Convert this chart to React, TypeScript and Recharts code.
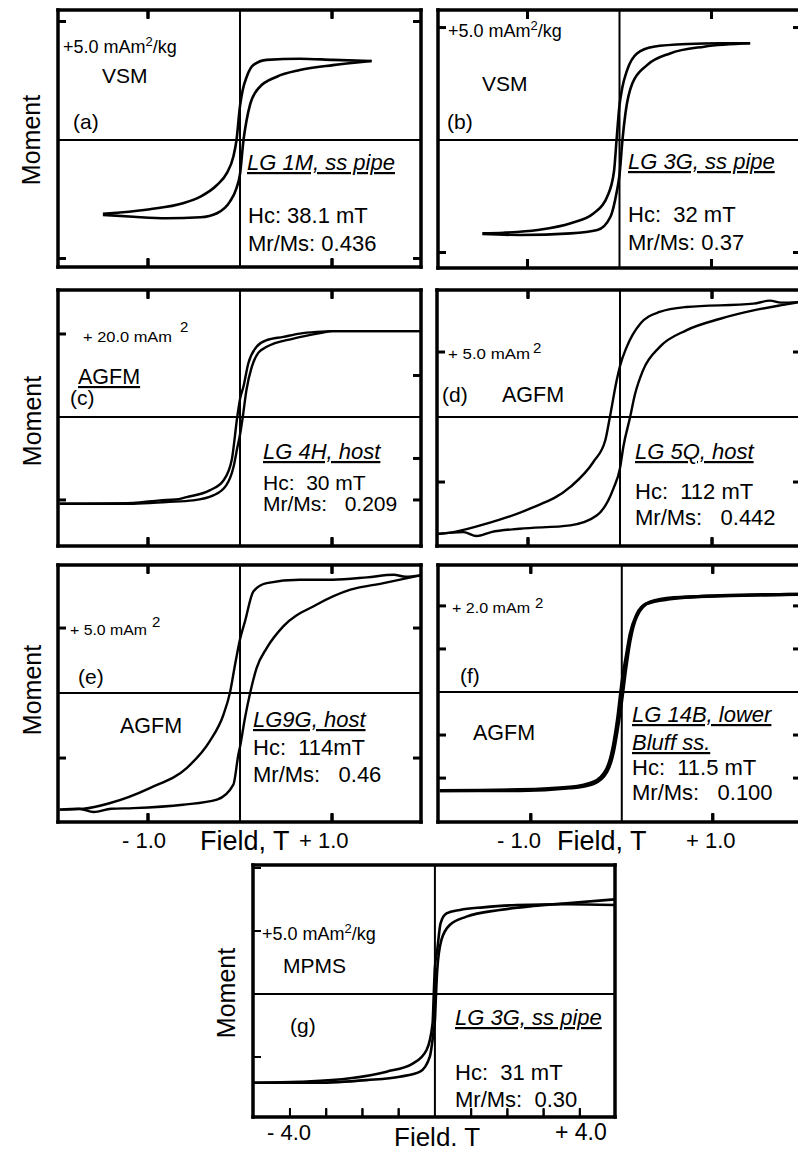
import React from 'react';
import { ComposedChart, Line, Scatter, XAxis, YAxis, ReferenceLine } from 'recharts';

type Pt = [number, number];

// ---- data: [field (T), moment] ----
const aUpper: Pt[] = [[-1.49,-3.12],[-1.34,-3.07],[-0.98,-2.92],[-0.62,-2.67],[-0.43,-2.39],[-0.25,-1.9],[-0.145,-1.41],[-0.072,-0.7],[-0.038,0],[0,1.44],[0.029,2.1],[0.073,2.67],[0.145,3.16],[0.29,3.38],[0.65,3.43],[1.01,3.38],[1.43,3.33]];
const aLower: Pt[] = [[-1.49,-3.16],[-1.16,-3.24],[-0.8,-3.3],[-0.43,-3.26],[-0.25,-3.09],[-0.11,-2.6],[-0.04,-2.05],[0,-1.44],[0.038,0],[0.07,0.8],[0.11,1.5],[0.2,2.18],[0.4,2.67],[0.65,2.95],[1.01,3.16],[1.43,3.33]];

const bUpper: Pt[] = [[-1.49,-4.15],[-1.26,-4.12],[-0.89,-4.0],[-0.53,-3.7],[-0.28,-3.26],[-0.134,-2.52],[-0.06,-1.4],[-0.032,0],[0,1.55],[0.029,2.3],[0.083,3.11],[0.19,3.85],[0.37,4.15],[0.74,4.27],[1.1,4.3],[1.42,4.3]];
const bLower: Pt[] = [[-1.49,-4.18],[-1.08,-4.22],[-0.53,-4.15],[-0.24,-4.0],[-0.098,-3.41],[-0.03,-2.3],[0,-1.55],[0.032,0],[0.065,1.2],[0.14,2.52],[0.3,3.33],[0.55,3.85],[0.92,4.15],[1.42,4.3]];

const cUpper: Pt[] = [[-1.96,-20.9],[-1.16,-20.7],[-0.87,-20.1],[-0.7,-19.9],[-0.58,-19.3],[-0.33,-17.7],[-0.18,-15.3],[-0.09,-10.4],[-0.03,0],[0,4.3],[0.036,7.2],[0.09,12.9],[0.18,16.9],[0.29,18.5],[0.47,19.3],[0.65,20.1],[0.83,20.5],[1.01,20.7],[1.96,20.7]];
const cLower: Pt[] = [[-1.96,-20.9],[-1.16,-20.9],[-0.8,-20.5],[-0.51,-20.1],[-0.29,-18.9],[-0.15,-16.5],[-0.07,-12.0],[-0.03,-7.5],[0,-4.3],[0.03,0],[0.07,6.5],[0.127,12.0],[0.2,15.5],[0.29,16.9],[0.58,18.9],[0.87,20.2],[1.01,20.7],[1.96,20.7]];

const dUpper: Pt[] = [[-1.99,-9.0],[-1.81,-8.85],[-1.45,-8.2],[-0.98,-7.05],[-0.54,-5.38],[-0.29,-3.46],[-0.16,-1.79],[-0.11,0],[-0.036,2.82],[0,3.93],[0.072,5.38],[0.22,7.18],[0.43,8.08],[0.72,8.46],[1.45,8.72],[1.63,8.95],[1.75,8.8],[1.96,8.85]];
const dLower: Pt[] = [[-1.99,-9.0],[-1.7,-8.85],[-1.56,-9.15],[-1.4,-8.85],[-1.09,-8.59],[-0.54,-8.33],[-0.25,-7.56],[-0.072,-5.51],[0,-3.93],[0.036,-2.3],[0.11,0],[0.16,1.67],[0.25,3.59],[0.43,5.38],[0.72,6.67],[1.09,7.56],[1.45,8.2],[1.74,8.59],[1.96,8.85]];

const eUpper: Pt[] = [[-1.96,-8.97],[-1.7,-8.9],[-1.41,-8.46],[-0.98,-7.31],[-0.58,-5.77],[-0.33,-3.72],[-0.18,-1.67],[-0.11,0],[-0.054,2.18],[0,4.14],[0.054,5.51],[0.145,7.82],[0.29,8.46],[0.65,8.72],[1.01,8.72],[1.38,8.9],[1.67,9.1],[1.8,8.95],[1.96,9.05]];
const eLower: Pt[] = [[-1.96,-8.97],[-1.75,-8.9],[-1.59,-9.15],[-1.4,-8.9],[-1.16,-8.85],[-0.62,-8.59],[-0.25,-8.2],[-0.072,-7.05],[-0.018,-4.74],[0,-4.14],[0.054,-1.92],[0.11,0],[0.18,1.92],[0.29,3.46],[0.47,5.13],[0.83,6.79],[1.2,7.95],[1.56,8.46],[1.96,9.05]];

const fUpper: Pt[] = [[-2.0,-2.29],[-1.12,-2.27],[-0.57,-2.21],[-0.31,-2.09],[-0.165,-1.78],[-0.092,-1.23],[-0.045,-0.6],[0,0.2],[0.05,0.85],[0.092,1.35],[0.165,1.8],[0.27,2.05],[0.53,2.16],[1.08,2.24],[1.94,2.27]];
const fLower: Pt[] = [[-2.0,-2.29],[-1.12,-2.29],[-0.57,-2.23],[-0.31,-2.13],[-0.165,-1.86],[-0.092,-1.4],[-0.05,-0.9],[0,-0.2],[0.045,0.55],[0.092,1.2],[0.165,1.76],[0.31,2.09],[0.57,2.19],[1.08,2.23],[1.94,2.27]];

const gUpper: Pt[] = [[-5.01,-7.04],[-3.72,-6.96],[-2.34,-6.69],[-1.33,-6.16],[-0.6,-5.5],[-0.23,-4.44],[-0.064,-2.33],[-0.031,0],[0,2.1],[0.064,3.49],[0.156,5.61],[0.32,6.4],[0.69,6.67],[1.33,6.88],[2.25,7.06],[3.63,7.12],[4.97,7.06]];
const gLower: Pt[] = [[-5.01,-7.04],[-3.26,-7.04],[-1.89,-6.83],[-0.97,-6.56],[-0.41,-6.16],[-0.14,-4.97],[-0.046,-3.2],[0,-2.1],[0.031,0],[0.064,1.9],[0.18,4.29],[0.41,5.48],[0.87,6.14],[1.79,6.67],[2.71,6.98],[3.63,7.2],[4.97,7.51]];

// ---- tick values ----
const fieldTicksTop = [-1, 1];
const fieldTicksBottom = [-1, 1];
const fieldTicksG = [-4, -3, -2, -1, 1, 2, 3, 4];
const ticksA = [-5, 5];
const ticksCLeft = [-20, 20];
const ticksCRight = [-20, -10, 10];
const ticksF = [-2, -1, 1, 2];
const ticksGLeft = [-5, 5, 10];

const toRows = (pts: Pt[]) => pts.map(([h, m]) => ({ h, m }));

const FONT = "'Liberation Sans', Arial, Helvetica, sans-serif";

const EmptyTick = () => <g />;

interface PanelProps {
  left: number; top: number; width: number; height: number;
  xDomain: [number, number]; yDomain: [number, number];
  xTop: number[]; xBottom: number[]; yLeft: number[]; yRight: number[];
  upper: Pt[]; lower: Pt[]; curveWidth: number; tickW: number;
}

function Panel(p: PanelProps) {
  const pad = 5;
  const axisLine = { stroke: '#000', strokeWidth: 3.5, strokeLinecap: 'square' as const };
  const tl = (arr: number[]) => (arr.length ? { stroke: '#000', strokeWidth: p.tickW } : false);
  const [yMin, yMax] = p.yDomain;
  const bottomTickRows = p.xBottom.map((t) => ({ h: t, m: yMin, dir: -1 }));
  const topTickRows = p.xTop.map((t) => ({ h: t, m: yMax, dir: 1 }));
  const tickShape = (s: any) => {
    const { cx, cy, payload } = s;
    if (typeof cx !== 'number' || typeof cy !== 'number') return <g />;
    const d = payload && payload.dir === 1 ? 9 : -9;
    return <line x1={cx} y1={cy} x2={cx} y2={cy + d} stroke="#000" strokeWidth={p.tickW} />;
  };
  return (
    <div style={{ position: 'absolute', left: p.left - pad, top: p.top - pad }}>
      <ComposedChart width={p.width + 2 * pad} height={p.height + 2 * pad}
        margin={{ top: pad, right: pad, bottom: pad, left: pad }}>
        <XAxis xAxisId="b" orientation="bottom" type="number" dataKey="h" domain={p.xDomain}
          allowDataOverflow ticks={p.xBottom} interval={0} tick={EmptyTick} tickSize={8} mirror height={1}
          stroke="#000" axisLine={axisLine} tickLine={tl(p.xBottom)} />
        <XAxis xAxisId="t" orientation="top" type="number" dataKey="h" domain={p.xDomain}
          allowDataOverflow ticks={p.xTop} interval={0} tick={EmptyTick} tickSize={8} mirror height={1}
          stroke="#000" axisLine={axisLine} tickLine={tl(p.xTop)} />
        <YAxis yAxisId="l" orientation="left" type="number" dataKey="m" domain={p.yDomain}
          allowDataOverflow ticks={p.yLeft} interval={0} tick={EmptyTick} tickSize={8} mirror width={1}
          stroke="#000" axisLine={axisLine} tickLine={tl(p.yLeft)} />
        <YAxis yAxisId="r" orientation="right" type="number" dataKey="m" domain={p.yDomain}
          allowDataOverflow ticks={p.yRight} interval={0} tick={EmptyTick} tickSize={8} mirror width={1}
          stroke="#000" axisLine={axisLine} tickLine={tl(p.yRight)} />
        <ReferenceLine xAxisId="b" yAxisId="l" x={0} stroke="#000" strokeWidth={2} />
        <ReferenceLine xAxisId="b" yAxisId="l" y={0} stroke="#000" strokeWidth={2} />
        <Scatter xAxisId="b" yAxisId="l" data={bottomTickRows} dataKey="m" shape={tickShape}
          isAnimationActive={false} />
        <Scatter xAxisId="b" yAxisId="l" data={topTickRows} dataKey="m" shape={tickShape}
          isAnimationActive={false} />
        <Line xAxisId="b" yAxisId="l" data={toRows(p.upper)} dataKey="m" type="monotone" dot={false}
          activeDot={false} stroke="#000" strokeWidth={p.curveWidth} isAnimationActive={false} />
        <Line xAxisId="b" yAxisId="l" data={toRows(p.lower)} dataKey="m" type="monotone" dot={false}
          activeDot={false} stroke="#000" strokeWidth={p.curveWidth} isAnimationActive={false} />
      </ComposedChart>
    </div>
  );
}

const T = (props: any) => (
  <text fontFamily={FONT} fill="#000" style={{ whiteSpace: 'pre' }} {...props} />
);

function Unit({ x, y, text, size = 18 }: { x: number; y: number; text: string; size?: number }) {
  return (
    <T x={x} y={y} fontSize={size}>
      {text}
      <tspan dy={-7} fontSize={13}>2</tspan>
      <tspan dy={7}>/kg</tspan>
    </T>
  );
}

function Overlay() {
  const moment = (x: number, y: number) => (
    <T x={x} y={y} fontSize={25} textAnchor="middle" dominantBaseline="central"
      transform={`rotate(-90 ${x} ${y})`}>Moment</T>
  );
  const stat = 22;
  return (
    <svg width={798} height={1152} style={{ position: 'absolute', left: 0, top: 0, pointerEvents: 'none' }}>
      {moment(31, 140)}
      {moment(32, 421)}
      {moment(32, 690)}
      {moment(226, 993)}

      {/* (a) */}
      <Unit x={63} y={53} text="+5.0 mAm" />
      <T x={102} y={83} fontSize={21}>VSM</T>
      <T x={73} y={129} fontSize={21}>(a)</T>
      <T x={247} y={170} fontSize={stat} fontStyle="italic" textDecoration="underline">LG 1M, ss pipe</T>
      <T x={248} y={223} fontSize={stat}>Hc: 38.1 mT</T>
      <T x={248} y={251} fontSize={stat}>Mr/Ms: 0.436</T>

      {/* (b) */}
      <Unit x={448} y={37} text="+5.0 mAm" />
      <T x={482} y={91} fontSize={21}>VSM</T>
      <T x={447} y={129} fontSize={21}>(b)</T>
      <T x={628} y={169} fontSize={stat} fontStyle="italic" textDecoration="underline">LG 3G, ss pipe</T>
      <T x={628} y={222} fontSize={stat}>Hc:  32 mT</T>
      <T x={628} y={250} fontSize={stat}>Mr/Ms: 0.37</T>

      {/* (c) */}
      <T x={83} y={342} fontSize={14.5} textLength={89} lengthAdjust="spacingAndGlyphs">+ 20.0 mAm</T>
      <T x={180} y={332} fontSize={15}>2</T>
      <T x={78} y={384} fontSize={21.5} textDecoration="underline">AGFM</T>
      <T x={70} y={405} fontSize={21}>(c)</T>
      <T x={263} y={459} fontSize={stat} fontStyle="italic" textDecoration="underline">LG 4H, host</T>
      <T x={263} y={490} fontSize={21}>Hc:  30 mT</T>
      <T x={263} y={511} fontSize={21}>Mr/Ms:   0.209</T>

      {/* (d) */}
      <T x={448} y={359} fontSize={14.5} textLength={82} lengthAdjust="spacingAndGlyphs">+ 5.0 mAm</T>
      <T x={533} y={353} fontSize={15}>2</T>
      <T x={442} y={402} fontSize={21}>(d)</T>
      <T x={502} y={402} fontSize={21.5}>AGFM</T>
      <T x={635} y={459} fontSize={stat} fontStyle="italic" textDecoration="underline">LG 5Q, host</T>
      <T x={635} y={499} fontSize={stat}>Hc:  112 mT</T>
      <T x={635} y={525} fontSize={stat}>Mr/Ms:   0.442</T>

      {/* (e) */}
      <T x={70} y={635} fontSize={14.5} textLength={77} lengthAdjust="spacingAndGlyphs">+ 5.0 mAm</T>
      <T x={152} y={627} fontSize={15}>2</T>
      <T x={78} y={684} fontSize={21}>(e)</T>
      <T x={120} y={733} fontSize={21.5}>AGFM</T>
      <T x={253} y={727} fontSize={stat} fontStyle="italic" textDecoration="underline">LG9G, host</T>
      <T x={253} y={755} fontSize={stat}>Hc:  114mT</T>
      <T x={253} y={782} fontSize={stat}>Mr/Ms:   0.46</T>
      <T x={122} y={848} fontSize={22}>- 1.0</T>
      <T x={200} y={850} fontSize={27}>Field, T</T>
      <T x={299} y={848} fontSize={22}>+ 1.0</T>

      {/* (f) */}
      <T x={452} y={613} fontSize={14.5} textLength={78} lengthAdjust="spacingAndGlyphs">+ 2.0 mAm</T>
      <T x={535} y={608} fontSize={15}>2</T>
      <T x={460} y={683} fontSize={21}>(f)</T>
      <T x={473} y={740} fontSize={21.5}>AGFM</T>
      <T x={632} y={722} fontSize={stat} fontStyle="italic" textDecoration="underline">LG 14B, lower</T>
      <T x={632} y={750} fontSize={stat} fontStyle="italic" textDecoration="underline">Bluff ss.</T>
      <T x={632} y={775} fontSize={stat}>Hc:  11.5 mT</T>
      <T x={632} y={800} fontSize={stat}>Mr/Ms:   0.100</T>
      <T x={497} y={848} fontSize={22}>- 1.0</T>
      <T x={557} y={850} fontSize={27}>Field, T</T>
      <T x={686} y={848} fontSize={22}>+ 1.0</T>

      {/* (g) */}
      <Unit x={262} y={940} text="+5.0 mAm" />
      <T x={283} y={973} fontSize={21}>MPMS</T>
      <T x={290} y={1033} fontSize={21}>(g)</T>
      <T x={455} y={1025} fontSize={stat} fontStyle="italic" textDecoration="underline">LG 3G, ss pipe</T>
      <T x={455} y={1080} fontSize={stat}>Hc:  31 mT</T>
      <T x={455} y={1107} fontSize={stat}>Mr/Ms:  0.30</T>
      <T x={267} y={1140} fontSize={22}>- 4.0</T>
      <T x={394} y={1146} fontSize={26}>Field. T</T>
      <T x={555} y={1140} fontSize={23}>+ 4.0</T>
    </svg>
  );
}

export default function App() {
  return (
    <div style={{ position: 'absolute', left: 0, top: 0, width: 798, height: 1152, overflow: 'hidden', background: '#fff' }}>
      <Panel left={58} top={10} width={363} height={257} xDomain={[-1.978, 1.967]} yDomain={[-5.36, 5.485]}
        xTop={fieldTicksTop} xBottom={fieldTicksBottom} yLeft={ticksA} yRight={ticksA}
        upper={aUpper} lower={aLower} curveWidth={2.6} tickW={3} />
      <Panel left={438} top={10} width={363} height={258} xDomain={[-1.973, 1.973]} yDomain={[-5.69, 5.78]}
        xTop={fieldTicksTop} xBottom={fieldTicksBottom} yLeft={ticksA} yRight={ticksA}
        upper={bUpper} lower={bLower} curveWidth={2.6} tickW={3} />
      <Panel left={58} top={290} width={363} height={256} xDomain={[-1.978, 1.967]} yDomain={[-31.1, 30.6]}
        xTop={fieldTicksTop} xBottom={fieldTicksBottom} yLeft={ticksCLeft} yRight={ticksCRight}
        upper={cUpper} lower={cLower} curveWidth={2.4} tickW={3} />
      <Panel left={437} top={290} width={364} height={256} xDomain={[-1.989, 1.967]} yDomain={[-9.92, 9.77]}
        xTop={fieldTicksTop} xBottom={fieldTicksBottom} yLeft={ticksA} yRight={ticksA}
        upper={dUpper} lower={dLower} curveWidth={2.4} tickW={3} />
      <Panel left={58} top={565} width={363} height={257} xDomain={[-1.978, 1.967]} yDomain={[-9.92, 9.85]}
        xTop={fieldTicksTop} xBottom={fieldTicksBottom} yLeft={ticksA} yRight={ticksA}
        upper={eUpper} lower={eLower} curveWidth={2.4} tickW={3} />
      <Panel left={438} top={565} width={363} height={257} xDomain={[-2.02, 1.97]} yDomain={[-3.02, 2.95]}
        xTop={fieldTicksTop} xBottom={fieldTicksBottom} yLeft={ticksF} yRight={ticksF}
        upper={fUpper} lower={fLower} curveWidth={3.2} tickW={3} />
      <Panel left={253} top={865} width={362} height={252} xDomain={[-5.02, 4.97]} yDomain={[-9.76, 10.24]}
        xTop={[]} xBottom={fieldTicksG} yLeft={ticksGLeft} yRight={[]}
        upper={gUpper} lower={gLower} curveWidth={2.6} tickW={2} />
      <Overlay />
    </div>
  );
}
